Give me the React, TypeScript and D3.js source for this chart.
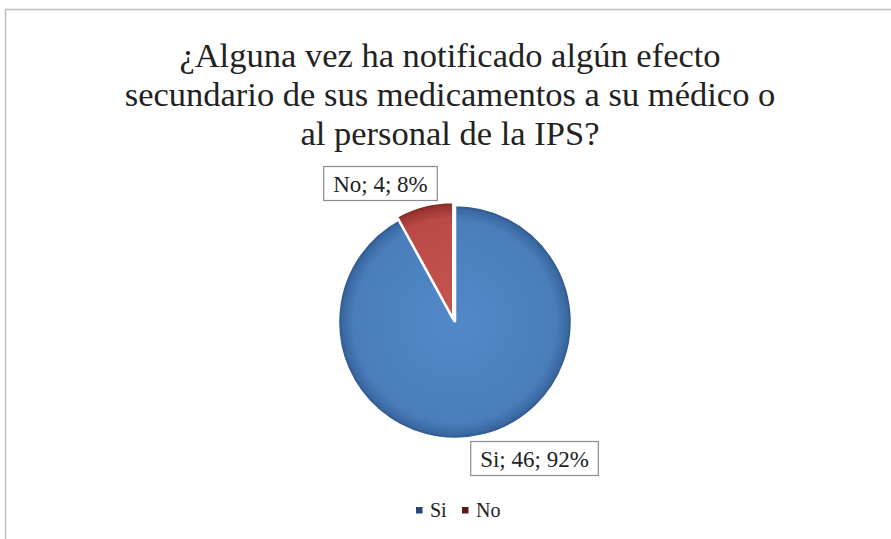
import React, { useEffect, useRef } from 'react';
import * as d3 from 'd3';

const categories = ['Si', 'No'];
const counts = [46, 4];
const percents = ['92%', '8%'];
const gradStops = [
  ['#5289c9', '#4a7ebb', '#3b69a2', '#2a5289'],
  ['#c65552', '#bb4a46', '#9a3532', '#7e2523'],
];
const legendColors = ['#24477a', '#5a1a18'];
const titleLines = [
  '¿Alguna vez ha notificado algún efecto',
  'secundario de sus medicamentos a su médico o',
  'al personal de la IPS?',
];

export default function App() {
  const ref = useRef<SVGSVGElement>(null);

  useEffect(() => {
    const svg = d3.select(ref.current);
    svg.selectAll('*').remove();
    const W = 891, H = 539;
    const serif = '"Liberation Serif", "DejaVu Serif", serif';

    // chart frame
    svg.append('rect').attr('x', 5.5).attr('y', 9.5).attr('width', W).attr('height', H)
      .attr('fill', '#fff').attr('stroke', '#bdbdbd').attr('stroke-width', 1.5);

    svg.append('g').selectAll('text').data(titleLines).enter().append('text')
      .attr('x', 450).attr('y', (d, i) => 67 + i * 39)
      .attr('text-anchor', 'middle').style('font-family', serif).style('font-size', '34.5px')
      .attr('fill', '#222').text((d) => d);

    const cx = 455, cy = 322, r = 117;
    const pie = d3.pie<number>().sort(null).value((d) => d);
    const arcs = pie(counts);
    const arc = d3.arc<d3.PieArcDatum<number>>().innerRadius(0).outerRadius(r);

    const defs = svg.append('defs');
    gradStops.forEach((s, i) => {
      const gr = defs.append('radialGradient').attr('id', `grad${i}`)
        .attr('gradientUnits', 'userSpaceOnUse').attr('cx', 0).attr('cy', 0).attr('r', r);
      [0, 0.86, 0.96, 1].forEach((o, k) => {
        gr.append('stop').attr('offset', o).attr('stop-color', s[k]);
      });
    });

    const g = svg.append('g').attr('transform', `translate(${cx},${cy})`);
    const explode = [0, 3];
    g.selectAll('path').data(arcs).enter().append('path')
      .attr('transform', (d, i) => {
        const a = (d.startAngle + d.endAngle) / 2;
        return `translate(${Math.sin(a) * explode[i] - (i ? 1 : 0)},${-Math.cos(a) * explode[i]})`;
      })
      .attr('d', arc)
      .attr('fill', (d, i) => `url(#grad${i})`)
      .attr('stroke', '#fff').attr('stroke-width', 2.5)
      .attr('stroke-linejoin', 'miter');

    // data labels
    const labels = [
      { x: 534.5, y: 458.5 },
      { x: 380.5, y: 183.5 },
    ];
    labels.forEach((p, i) => {
      const txt = `${categories[i]}; ${counts[i]}; ${percents[i]}`;
      const box = svg.append('rect');
      const t = svg.append('text').attr('x', p.x).attr('y', p.y + 8)
        .attr('text-anchor', 'middle').style('font-family', serif).style('font-size', '23px')
        .attr('fill', '#222').text(txt);
      const bb = (t.node() as SVGTextElement).getBBox();
      box.attr('x', bb.x - 9.5).attr('y', p.y - 17).attr('width', bb.width + 19).attr('height', 34)
        .attr('fill', '#fff').attr('stroke', '#8c8c8c').attr('stroke-width', 1.2);
    });

    // legend
    const lx = [416, 462];
    categories.forEach((c, i) => {
      svg.append('rect').attr('x', lx[i]).attr('y', 507).attr('width', 6.5).attr('height', 6.5)
        .attr('fill', legendColors[i]);
      svg.append('text').attr('x', lx[i] + 14).attr('y', 517)
        .style('font-family', serif).style('font-size', '20px').attr('fill', '#222').text(c);
    });
  }, []);

  return (
    <svg ref={ref} width={891} height={539}
      style={{ position: 'absolute', left: 0, top: 0, display: 'block' }} />
  );
}
